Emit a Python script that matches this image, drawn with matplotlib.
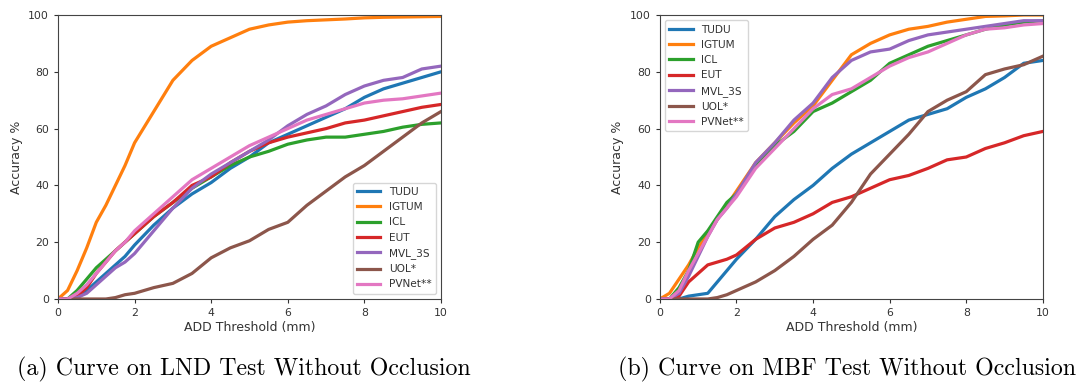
import numpy as np
import matplotlib
matplotlib.use("Agg")
import matplotlib.pyplot as plt

# shared threshold grid (mm)
x = [0, 0.25, 0.5, 0.75, 1, 1.25, 1.5, 1.75, 2, 2.5, 3, 3.5, 4, 4.5, 5,
     5.5, 6, 6.5, 7, 7.5, 8, 8.5, 9, 9.5, 10]

methods = ["TUDU", "IGTUM", "ICL", "EUT", "MVL_3S", "UOL*", "PVNet**"]

# (a) LND test without occlusion
lnd_tudu = [0, 0, 0.5, 3, 6, 9, 12, 15, 19, 26, 32, 37, 41, 46, 50, 55, 58, 61, 64, 67, 71, 74, 76, 78, 80]
lnd_igtum = [0, 3, 10, 18, 27, 33, 40, 47, 55, 66, 77, 84, 89, 92, 95, 96.5, 97.5, 98, 98.3, 98.6, 99, 99.2, 99.3, 99.4, 99.5]
lnd_icl = [0, 0, 3, 7, 11, 14, 17, 20, 23, 29, 34, 39, 43, 47, 50, 52, 54.5, 56, 57, 57, 58, 59, 60.5, 61.5, 62]
lnd_eut = [0, 0, 1, 4, 9, 13, 17, 20, 23, 29, 34, 40, 43, 48, 52, 55, 57, 58.5, 60, 62, 63, 64.5, 66, 67.5, 68.5]
lnd_mvl = [0, 0, 0.5, 2, 5, 8, 11, 13, 16, 24, 32, 39, 44, 48, 52, 56, 61, 65, 68, 72, 75, 77, 78, 81, 82]
lnd_uol = [0, 0, 0, 0, 0, 0, 0.5, 1.5, 2, 4, 5.5, 9, 14.5, 18, 20.5, 24.5, 27, 33, 38, 43, 47, 52, 57, 62, 66]
lnd_pvnet = [0, 0, 2, 5, 9, 13, 17, 20, 24, 30, 36, 42, 46, 50, 54, 57, 60, 63, 65, 67, 69, 70, 70.5, 71.5, 72.5]

# (b) MBF test without occlusion
mbf_tudu = [0, 0, 0, 1, 1.5, 2, 6, 10, 14, 21, 29, 35, 40, 46, 51, 55, 59, 63, 65, 67, 71, 74, 78, 83, 84]
mbf_igtum = [0, 2, 7, 12, 18, 23, 28, 33, 38, 48, 55, 62, 68, 77, 86, 90, 93, 95, 96, 97.5, 98.5, 99.5, 99.7, 100, 100]
mbf_icl = [0, 0, 4, 10, 20, 24, 29, 34, 37, 47, 54, 59, 66, 69, 73, 77, 83, 86, 89, 91, 93, 95, 96.5, 97.5, 98]
mbf_eut = [0, 0, 1, 6, 9, 12, 13, 14, 15.5, 21, 25, 27, 30, 34, 36, 39, 42, 43.5, 46, 49, 50, 53, 55, 57.5, 59]
mbf_mvl = [0, 0, 2, 8, 15, 22, 28, 32, 37, 48, 55, 63, 69, 78, 84, 87, 88, 91, 93, 94, 95, 96, 97, 98, 98]
mbf_uol = [0, 0, 0, 0, 0, 0, 0.5, 1.5, 3, 6, 10, 15, 21, 26, 34, 44, 51, 58, 66, 70, 73, 79, 81, 82.5, 85.5]
mbf_pvnet = [0, 0, 3, 10, 16, 22, 28, 32, 36, 46, 53, 60, 67, 72, 74, 78, 82, 85, 87, 90, 93, 95, 95.5, 96.5, 97]

panels = [
    ([lnd_tudu, lnd_igtum, lnd_icl, lnd_eut, lnd_mvl, lnd_uol, lnd_pvnet],
     "lower right", "(a) Curve on LND Test Without Occlusion"),
    ([mbf_tudu, mbf_igtum, mbf_icl, mbf_eut, mbf_mvl, mbf_uol, mbf_pvnet],
     "upper left", "(b) Curve on MBF Test Without Occlusion"),
]
colors = ["#1f77b4", "#ff7f0e", "#2ca02c", "#d62728", "#9467bd", "#8c564b", "#e377c2"]

fig = plt.figure(figsize=(10.8, 3.89), dpi=100)
lefts = [0.0537, 0.611]
caption_x = [0.226, 0.784]

for left, cx, (series, loc, caption) in zip(lefts, caption_x, panels):
    ax = fig.add_axes([left, 0.2314, 0.3546, 0.730])
    for name, ys, c in zip(methods, series, colors):
        ax.plot(x, ys, color=c, lw=2.3, label=name)
    ax.set_xlim(0, 10)
    ax.set_ylim(0, 100)
    ax.set_xticks([0, 2, 4, 6, 8, 10])
    ax.set_yticks([0, 20, 40, 60, 80, 100])
    ax.tick_params(labelsize=7.8, colors="#333333", length=3)
    for s in ax.spines.values():
        s.set_color("#444444")
    ax.set_xlabel("ADD Threshold (mm)", fontsize=9, color="#333333", labelpad=2)
    ax.set_ylabel("Accuracy %", fontsize=9, color="#333333", labelpad=4)
    leg = ax.legend(loc=loc, fontsize=7.6, handlelength=2.2, labelspacing=0.5)
    for t in leg.get_texts():
        t.set_color("#333333")
    fig.text(cx, 0.05, caption, ha="center", va="center",
             fontsize=17.2, family="cmr10")

fig.savefig("out.png", dpi=100)
